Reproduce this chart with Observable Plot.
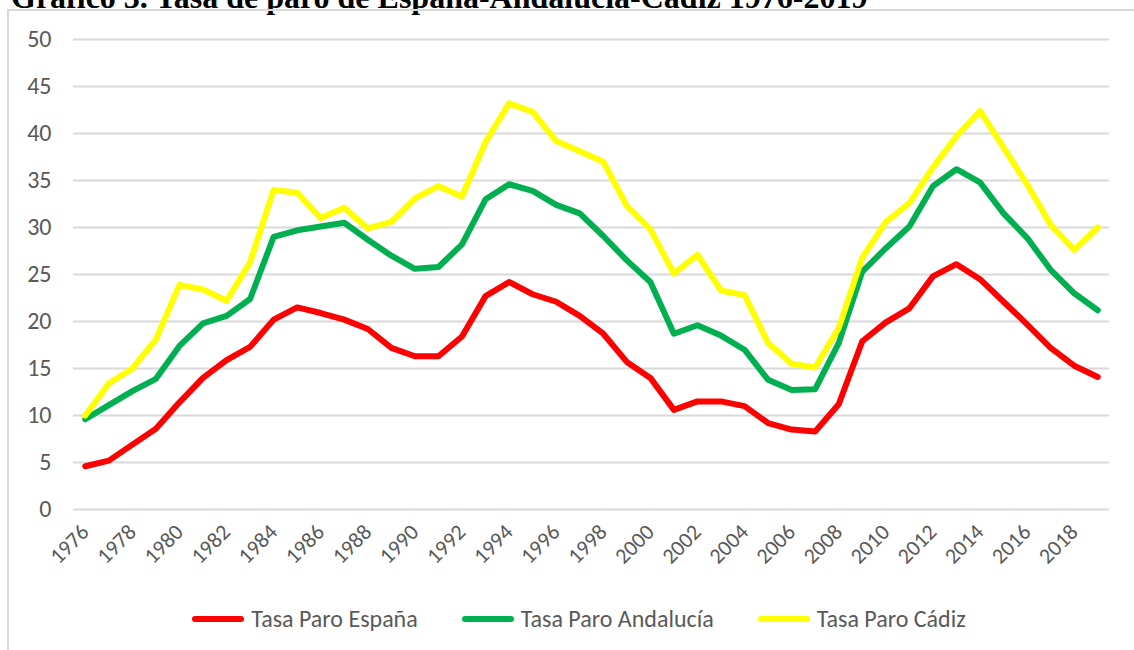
<!DOCTYPE html>
<html>
<head>
<meta charset="utf-8">
<script src="https://cdn.jsdelivr.net/npm/d3@7"></script>
<script src="https://cdn.jsdelivr.net/npm/@observablehq/plot@0.6"></script>
<style>
  html, body { margin: 0; padding: 0; background: #fff; overflow: hidden; }
  #page { position: relative; width: 1134px; height: 650px; overflow: hidden; }
  #title { position: absolute; left: 11px; top: -19.5px; font: bold 32px/32px "Liberation Serif", "Times New Roman", serif; color: #000; white-space: nowrap; }
  #frame { position: absolute; left: 7px; top: 9px; width: 1200px; height: 700px; border-left: 2px solid #d9d9d9; border-top: 2px solid #d9d9d9; }
  #chart { position: absolute; left: 0; top: 0; }
  #legend { position: absolute; left: 61px; width: 1036px; top: 604px; display: flex; justify-content: center; gap: 44px; font: 24px Carlito, Calibri, Lato, sans-serif; color: #595959; }
  .item { display: flex; align-items: center; gap: 7px; }
  .swatch { width: 52px; height: 6px; border-radius: 3px; }
</style>
</head>
<body>
<div id="page">
  <div id="title">Gráfico 3. Tasa de paro de España-Andalucía-Cádiz 1976-2019</div>
  <div id="frame"></div>
  <div id="chart"></div>
  <div id="legend"></div>
</div>
<script>
const years = d3.range(1976, 2020);
const seriesNames = ["Tasa Paro España", "Tasa Paro Andalucía", "Tasa Paro Cádiz"];
const seriesColors = ["#ff0000", "#00b050", "#ffff00"];
const espana = [4.6, 5.2, 6.9, 8.6, 11.4, 14.0, 15.9, 17.3, 20.2, 21.5, 20.9, 20.2, 19.2, 17.2, 16.3, 16.3, 18.4, 22.7, 24.2, 22.9, 22.1, 20.6, 18.7, 15.7, 14.0, 10.6, 11.5, 11.5, 11.0, 9.2, 8.5, 8.3, 11.2, 17.9, 19.9, 21.4, 24.8, 26.1, 24.5, 22.1, 19.7, 17.2, 15.3, 14.1];
const andalucia = [9.6, 11.1, 12.6, 13.9, 17.4, 19.8, 20.6, 22.4, 29.0, 29.7, 30.1, 30.5, 28.7, 27.0, 25.6, 25.8, 28.2, 33.0, 34.6, 33.9, 32.4, 31.5, 29.1, 26.5, 24.2, 18.7, 19.6, 18.5, 17.0, 13.8, 12.7, 12.8, 17.7, 25.3, 27.8, 30.1, 34.4, 36.2, 34.8, 31.5, 28.9, 25.5, 23.0, 21.2];
const cadiz = [10.0, 13.4, 15.0, 18.1, 23.9, 23.4, 22.2, 26.3, 34.0, 33.7, 31.0, 32.1, 29.9, 30.6, 33.1, 34.4, 33.3, 39.1, 43.2, 42.3, 39.2, 38.1, 37.0, 32.3, 29.8, 25.1, 27.1, 23.3, 22.8, 17.7, 15.5, 15.1, 19.3, 26.8, 30.6, 32.6, 36.4, 39.7, 42.4, 38.5, 34.6, 30.3, 27.6, 30.0];
const yTicks = d3.range(0, 51, 5);
const xTicks = d3.range(1976, 2019, 2);

const allSeries = [espana, andalucia, cadiz];
const data = [];
allSeries.forEach((vals, s) => vals.forEach((v, i) => data.push({year: years[i], value: v, series: seriesNames[s]})));

const plot = Plot.plot({
  width: 1134,
  height: 600,
  marginLeft: 73,
  marginRight: 25,
  marginTop: 39,
  marginBottom: 91,
  style: {background: "transparent", fontFamily: "Carlito, Calibri, Lato, sans-serif", color: "#595959"},
  x: {domain: [1975.5, 2019.5], label: null},
  y: {domain: [0, 50], label: null},
  color: {domain: seriesNames, range: seriesColors},
  marks: [
    Plot.ruleY(yTicks, {stroke: "#d9d9d9", strokeWidth: 2}),
    Plot.axisY({ticks: yTicks, tickSize: 0, tickPadding: 22, fontSize: 24, label: null}),
    Plot.axisX({ticks: xTicks, tickFormat: d => String(d), tickSize: 0, tickPadding: 19, tickRotate: -45, fontSize: 22, label: null}),
    Plot.line(data, {x: "year", y: "value", z: "series", stroke: "series", strokeWidth: 6, strokeLinecap: "round", strokeLinejoin: "round", curve: "linear"})
  ]
});
document.getElementById("chart").appendChild(plot);

const legend = document.getElementById("legend");
seriesNames.forEach((name, i) => {
  const item = document.createElement("div");
  item.className = "item";
  const sw = document.createElement("div");
  sw.className = "swatch";
  sw.style.background = seriesColors[i];
  const t = document.createElement("span");
  t.textContent = name;
  item.appendChild(sw);
  item.appendChild(t);
  legend.appendChild(item);
});
</script>
</body>
</html>
